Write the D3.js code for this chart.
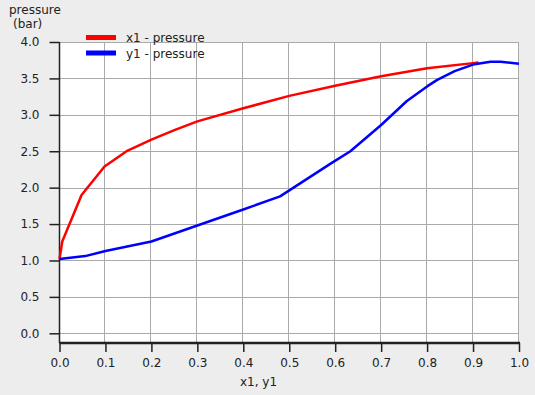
<!DOCTYPE html>
<html>
<head>
<meta charset="utf-8">
<script src="https://cdn.jsdelivr.net/npm/d3@7"></script>
<style>
  body { margin: 0; background: #ededed; }
  svg { display: block; font-family: "DejaVu Sans", sans-serif; }
</style>
</head>
<body>
<svg></svg>
<script>
// liquid composition (bubble line)
const x1 = [0, 0.006, 0.048, 0.098, 0.146, 0.2, 0.25, 0.3, 0.4, 0.5, 0.6, 0.7, 0.8, 0.9, 0.912];
const x1Pressure = [1.02, 1.26, 1.90, 2.29, 2.50, 2.66, 2.79, 2.91, 3.09, 3.26, 3.40, 3.53, 3.64, 3.71, 3.72];

// vapour composition (dew line)
const y1 = [0, 0.056, 0.1, 0.2, 0.3, 0.4, 0.48, 0.59, 0.633, 0.7, 0.756, 0.8, 0.822, 0.86, 0.9, 0.938, 0.96, 1.0];
const y1Pressure = [1.02, 1.06, 1.13, 1.26, 1.48, 1.70, 1.88, 2.33, 2.50, 2.86, 3.19, 3.39, 3.48, 3.60, 3.69, 3.73, 3.73, 3.70];

const xTicks = [0, 0.1, 0.2, 0.3, 0.4, 0.5, 0.6, 0.7, 0.8, 0.9, 1.0];
const yTicks = [0, 0.5, 1.0, 1.5, 2.0, 2.5, 3.0, 3.5, 4.0];

const width = 535, height = 395;
const plotLeft = 59.5, plotRight = 519, plotTop = 42, plotBottom = 343;

const svg = d3.select("svg").attr("width", width).attr("height", height);

const x = d3.scaleLinear().domain([0, 1]).range([plotLeft, plotRight]);
const y = d3.scaleLinear().domain([0, 4]).range([333.3, plotTop]);

// plot background
svg.append("rect")
    .attr("x", plotLeft).attr("y", plotTop)
    .attr("width", plotRight - plotLeft).attr("height", plotBottom - plotTop)
    .attr("fill", "#fff");

// grid
const grid = svg.append("g").attr("stroke", "#aaa").attr("stroke-width", 1);
grid.selectAll(".gx").data(xTicks).enter().append("line")
    .attr("x1", d => Math.round(x(d)) - 0.5).attr("x2", d => Math.round(x(d)) - 0.5)
    .attr("y1", plotTop).attr("y2", plotBottom);
grid.selectAll(".gy").data(yTicks).enter().append("line")
    .attr("x1", plotLeft).attr("x2", plotRight)
    .attr("y1", d => Math.round(y(d)) + 0.5).attr("y2", d => Math.round(y(d)) + 0.5);

// axes
const xAxis = svg.append("g")
    .attr("transform", `translate(0,${plotBottom})`)
    .call(d3.axisBottom(x).tickValues(xTicks).tickFormat(d3.format(".1f")).tickSize(9).tickPadding(6).tickSizeOuter(0));
const yAxis = svg.append("g")
    .attr("transform", `translate(${plotLeft},0)`)
    .call(d3.axisLeft(y).tickValues(yTicks).tickFormat(d3.format(".1f")).tickSize(10).tickPadding(10).tickSizeOuter(0));

[xAxis, yAxis].forEach(a => {
    a.selectAll("text").attr("fill", "#222").style("font-size", "12px").style("font-family", "DejaVu Sans");
    a.selectAll(".tick line").attr("stroke", "#222").attr("stroke-width", 1.5);
    a.select(".domain").remove();
});

svg.append("line").attr("x1", plotLeft).attr("x2", plotRight + 1).attr("y1", plotBottom).attr("y2", plotBottom)
    .attr("stroke", "#222").attr("stroke-width", 2.5);
svg.append("line").attr("x1", plotLeft).attr("x2", plotLeft).attr("y1", plotTop).attr("y2", plotBottom)
    .attr("stroke", "#222").attr("stroke-width", 1.5);

// curves
const line = d3.line().x(d => x(d[0])).y(d => y(d[1]));
svg.append("path")
    .datum(x1.map((v, i) => [v, x1Pressure[i]]))
    .attr("d", line).attr("fill", "none")
    .attr("stroke", "#ff0000").attr("stroke-width", 2.5).attr("stroke-linejoin", "round");
svg.append("path")
    .datum(y1.map((v, i) => [v, y1Pressure[i]]))
    .attr("d", line).attr("fill", "none")
    .attr("stroke", "#0000ff").attr("stroke-width", 2.5).attr("stroke-linejoin", "round");

// titles
const titles = svg.append("g").attr("fill", "#222").style("font-size", "12px");
titles.append("text").attr("x", 9).attr("y", 14).text("pressure");
titles.append("text").attr("x", 13).attr("y", 28).text("(bar)");
titles.append("text").attr("x", 258.5).attr("y", 386).attr("text-anchor", "middle").text("x1, y1");

// legend
const legend = [
    { name: "x1 - pressure", color: "#ff0000" },
    { name: "y1 - pressure", color: "#0000ff" }
];
const lg = svg.append("g").selectAll("g").data(legend).enter().append("g")
    .attr("transform", (d, i) => `translate(86,${37.5 + i * 15.5})`);
lg.append("line").attr("x1", 0).attr("x2", 30).attr("y1", 0).attr("y2", 0)
    .attr("stroke", d => d.color).attr("stroke-width", 5);
lg.append("text").attr("x", 40).attr("y", 4.5).attr("fill", "#222")
    .style("font-size", "12px").text(d => d.name);
</script>
</body>
</html>
